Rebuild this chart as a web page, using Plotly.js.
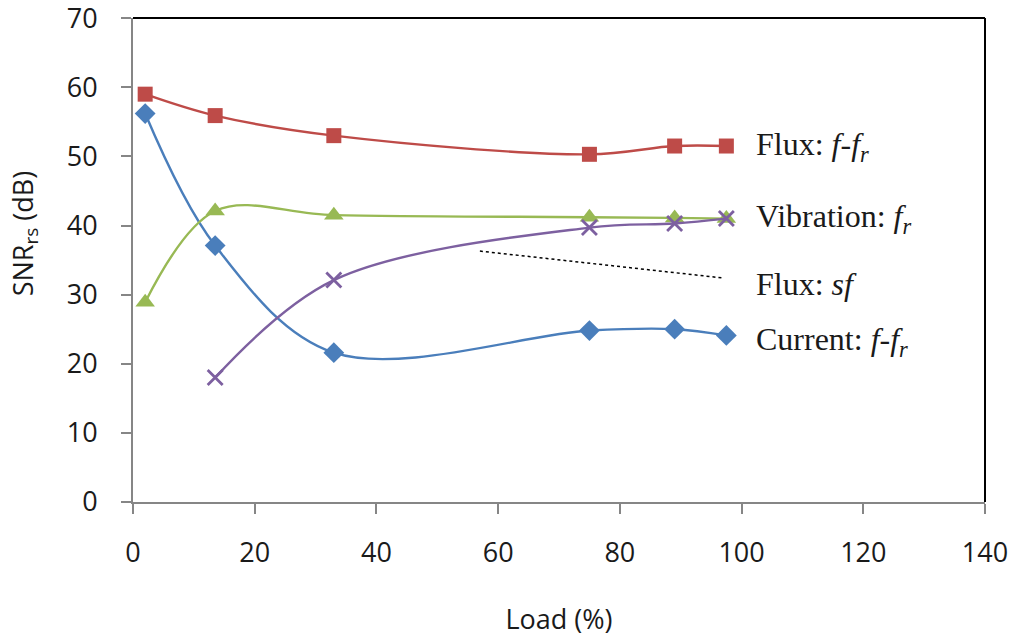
<!DOCTYPE html>
<html>
<head>
<meta charset="utf-8">
<script src="https://cdn.plot.ly/plotly-3.0.1.min.js"></script>
<style>html,body{margin:0;padding:0;background:#fff;}#chart{width:1011px;height:637px;}</style>
</head>
<body>
<div id="chart"></div>
<script>
var loadPct = [2, 13.5, 33, 75, 89, 97.5];
var currentFFr = [56.2, 37.1, 21.6, 24.8, 25.0, 24.1];
var fluxFFr = [59.0, 55.9, 53.0, 50.3, 51.5, 51.5];
var vibrationFr = [28.9, 42.1, 41.5, 41.2, 41.1, 41.0];
var fluxSfLoad = [13.5, 33, 75, 89, 97.5];
var fluxSf = [18.0, 32.1, 39.7, 40.3, 41.0];
var seriesLabels = ["Flux: <i>f</i>-<i>f</i><sub><i>r</i></sub>", "Vibration: <i>f</i><sub><i>r</i></sub>", "Flux: <i>sf</i>", "Current: <i>f</i>-<i>f</i><sub><i>r</i></sub>"];
var labelY = [51.5, 41.0, 31.6, 23.2];
var xTicks = [0, 20, 40, 60, 80, 100, 120, 140];
var yTicks = [0, 10, 20, 30, 40, 50, 60, 70];

var traces = [
  {x: loadPct, y: currentFFr, mode: "lines+markers", line: {color: "#4A7EBB", width: 2.4, shape: "spline", smoothing: 1},
   marker: {symbol: "diamond", size: 16, color: "#4A7EBB"}},
  {x: loadPct, y: fluxFFr, mode: "lines+markers", line: {color: "#BE4B48", width: 2.4, shape: "spline", smoothing: 1},
   marker: {symbol: "square", size: 15, color: "#BE4B48"}},
  {x: loadPct, y: vibrationFr, mode: "lines+markers", line: {color: "#98B954", width: 2.4, shape: "spline", smoothing: 1},
   marker: {symbol: "triangle-up", size: 17, color: "#98B954"}},
  {x: fluxSfLoad, y: fluxSf, mode: "lines+markers", line: {color: "#7D60A0", width: 2.4, shape: "spline", smoothing: 1},
   marker: {symbol: "x-thin", size: 15, color: "#7D60A0", line: {color: "#7D60A0", width: 2.8}}}
];

var annotations = seriesLabels.map(function (t, i) {
  return {x: 102, y: labelY[i], xref: "x", yref: "y", text: t, showarrow: false, xanchor: "left", yanchor: "middle",
    font: {family: "Liberation Serif, Times New Roman, serif", size: 32, color: "#1a1a1a"}};
});
annotations.push({x: -0.128, y: 0.555, xref: "paper", yref: "paper", text: "SNR<sub>rs</sub> (dB)", textangle: -90,
  showarrow: false, xanchor: "center", yanchor: "middle", font: {family: "Open Sans, sans-serif", size: 27, color: "#1a1a1a"}});

var layout = {
  width: 1011, height: 637,
  margin: {l: 133, r: 26, t: 18, b: 135},
  paper_bgcolor: "#fff", plot_bgcolor: "#fff",
  showlegend: false,
  font: {family: "Open Sans, sans-serif", size: 27, color: "#1a1a1a"},
  xaxis: {range: [0, 140], tickvals: xTicks, ticktext: xTicks.map(String), showgrid: false, zeroline: false,
    showline: true, linecolor: "#868686", linewidth: 2, ticks: "outside", ticklen: 10, tickwidth: 2, tickcolor: "#868686",
    ticklabelstandoff: 16, ticklabeloverflow: "allow",
    title: {text: "Load (%)", font: {size: 27}, standoff: 42}},
  yaxis: {range: [0, 70.02], tickvals: yTicks, ticktext: yTicks.map(String), showgrid: false, zeroline: false,
    showline: true, linecolor: "#868686", linewidth: 2, ticks: "outside", ticklen: 10, tickwidth: 2, tickcolor: "#868686",
    ticklabelstandoff: 18, ticklabeloverflow: "allow"},
  shapes: [
    {type: "line", xref: "paper", yref: "paper", x0: 0, x1: 1, y0: 1, y1: 1, line: {color: "#000", width: 2}},
    {type: "line", xref: "paper", yref: "paper", x0: 1, x1: 1, y0: 0, y1: 1, line: {color: "#000", width: 2}},
    {type: "line", xref: "x", yref: "y", x0: 57, y0: 36.3, x1: 97, y1: 32.4, line: {color: "#000", width: 1.5, dash: "dot"}}
  ],
  annotations: annotations
};

Plotly.newPlot("chart", traces, layout, {displayModeBar: false, staticPlot: true});
</script>
</body>
</html>
